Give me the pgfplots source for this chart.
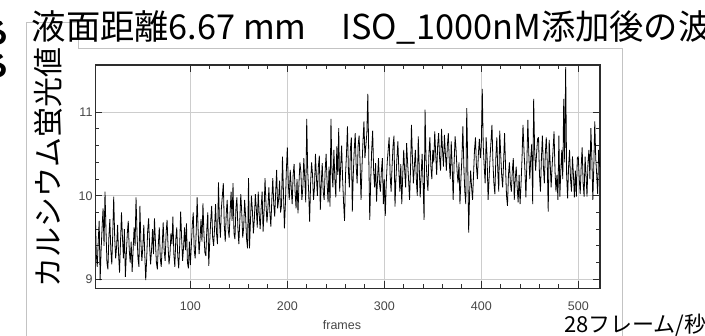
\documentclass[border=0pt]{standalone}
\usepackage{fontspec}
\setmainfont{Liberation Sans}
\newfontfamily\jp{Noto Sans CJK JP}
\usepackage{pgfplots}
\pgfplotsset{compat=1.18}
\definecolor{axc}{RGB}{45,45,45}
\definecolor{labc}{RGB}{70,70,70}
\definecolor{gridc}{RGB}{205,205,205}
\definecolor{framec}{RGB}{195,195,195}
\begin{document}
\begin{tikzpicture}[x=1pt,y=1pt]
\useasboundingbox (0,0) rectangle (705,336);
\clip (0,0) rectangle (705,336);
\draw[framec, line width=0.8pt] (26.7,0) -- (26.7,313.3) -- (78,313.3) -- (78,288) -- (622,288) -- (622,0);
\begin{axis}[
  at={(95.3pt,47.7pt)}, anchor=south west,
  width=504.7pt, height=223.3pt, scale only axis,
  xmin=2, xmax=522.4, ymin=8.892, ymax=11.566,
  xtick={100,200,300,400,500}, ytick={9,10,11},
  minor x tick num=4, minor y tick num=4,
  tick align=inside, major tick length=7pt, minor tick length=4pt,
  grid=major, major grid style={draw=gridc, line width=1.2pt},
  axis line style={draw=axc, line width=1.5pt},
  every tick/.style={draw=axc, line width=1pt},
  /pgf/number format/assume math mode=true,
  tick label style={font=\fontsize{12.5}{12.5}\selectfont, text=labc},
  xticklabel style={yshift=-10pt},
  yticklabel style={xshift=0.7pt},
  clip=true,
]
\addplot[black, line width=0.8pt, line join=miter, miter limit=2] table[x expr=\coordindex+1, y=v, row sep=\\]{
v\\
9.55\\ 9.80\\ 9.30\\ 9.15\\ 9.45\\ 9.70\\ 8.99\\ 9.35\\ 9.62\\ 9.85\\
9.40\\ 10.05\\ 9.60\\ 9.20\\ 9.12\\ 9.50\\ 9.72\\ 9.35\\ 9.18\\ 9.55\\
9.99\\ 9.50\\ 9.25\\ 9.40\\ 9.65\\ 9.30\\ 9.08\\ 9.45\\ 9.80\\ 9.50\\
9.25\\ 9.60\\ 9.03\\ 9.30\\ 9.55\\ 9.70\\ 9.35\\ 9.20\\ 9.45\\ 9.09\\
9.35\\ 9.62\\ 9.40\\ 9.98\\ 9.55\\ 9.25\\ 9.15\\ 9.88\\ 9.45\\ 9.22\\
9.38\\ 9.65\\ 9.30\\ 8.99\\ 9.25\\ 9.58\\ 9.73\\ 9.40\\ 9.18\\ 9.35\\
9.60\\ 9.30\\ 9.73\\ 9.45\\ 9.20\\ 9.12\\ 9.42\\ 9.62\\ 9.25\\ 9.15\\
9.40\\ 9.68\\ 9.35\\ 9.22\\ 9.55\\ 9.71\\ 9.40\\ 9.18\\ 9.30\\ 9.55\\
9.42\\ 9.75\\ 9.30\\ 9.15\\ 9.48\\ 9.62\\ 9.28\\ 9.13\\ 9.40\\ 9.81\\
9.50\\ 9.22\\ 9.38\\ 9.62\\ 9.35\\ 9.67\\ 9.20\\ 9.13\\ 9.45\\ 9.17\\
9.40\\ 9.65\\ 9.80\\ 9.35\\ 9.25\\ 9.55\\ 9.98\\ 9.60\\ 9.30\\ 9.48\\
9.72\\ 9.45\\ 9.91\\ 9.55\\ 9.32\\ 9.28\\ 9.60\\ 9.80\\ 9.16\\ 9.45\\
9.70\\ 9.88\\ 9.50\\ 9.40\\ 9.62\\ 9.90\\ 9.55\\ 9.42\\ 10.16\\ 9.70\\
9.50\\ 9.85\\ 10.00\\ 10.15\\ 9.65\\ 9.45\\ 9.78\\ 9.95\\ 9.60\\ 9.50\\
9.80\\ 10.05\\ 9.70\\ 10.15\\ 9.55\\ 9.48\\ 9.85\\ 9.98\\ 9.62\\ 9.42\\
9.70\\ 10.02\\ 9.80\\ 9.50\\ 9.62\\ 9.95\\ 9.75\\ 9.48\\ 9.37\\ 10.21\\
9.37\\ 9.70\\ 10.00\\ 9.82\\ 9.55\\ 9.72\\ 10.02\\ 9.85\\ 9.62\\ 10.05\\
9.78\\ 9.60\\ 9.85\\ 10.05\\ 9.57\\ 9.80\\ 10.21\\ 9.90\\ 9.68\\ 9.85\\
10.10\\ 9.80\\ 9.63\\ 9.95\\ 10.21\\ 9.90\\ 9.75\\ 10.05\\ 10.31\\ 9.85\\
9.95\\ 10.18\\ 9.80\\ 9.88\\ 10.47\\ 10.05\\ 9.61\\ 9.90\\ 10.30\\ 10.58\\
10.15\\ 9.95\\ 10.31\\ 10.10\\ 9.90\\ 10.25\\ 10.38\\ 10.05\\ 9.85\\ 10.20\\
9.79\\ 10.15\\ 10.40\\ 10.28\\ 9.95\\ 10.10\\ 10.45\\ 10.20\\ 9.92\\ 10.92\\
10.30\\ 10.05\\ 9.69\\ 10.15\\ 10.40\\ 10.25\\ 9.95\\ 10.10\\ 10.50\\ 10.22\\
10.00\\ 10.35\\ 10.48\\ 9.83\\ 10.15\\ 10.39\\ 10.05\\ 9.95\\ 10.30\\ 10.50\\
10.15\\ 9.92\\ 10.35\\ 9.87\\ 10.92\\ 10.30\\ 10.10\\ 10.55\\ 10.20\\ 9.98\\
10.59\\ 10.25\\ 10.81\\ 10.05\\ 10.35\\ 10.60\\ 10.20\\ 9.92\\ 9.70\\ 10.25\\
10.50\\ 10.83\\ 10.30\\ 10.10\\ 10.55\\ 10.70\\ 9.81\\ 10.25\\ 10.55\\ 10.75\\
10.35\\ 10.15\\ 10.60\\ 10.72\\ 10.40\\ 9.95\\ 10.35\\ 10.65\\ 10.89\\ 10.45\\
10.60\\ 10.75\\ 11.22\\ 10.45\\ 9.71\\ 10.20\\ 10.55\\ 10.78\\ 10.30\\ 10.10\\
10.39\\ 9.93\\ 10.20\\ 10.45\\ 10.15\\ 10.05\\ 10.30\\ 10.45\\ 9.90\\ 10.20\\
9.76\\ 10.15\\ 10.40\\ 10.55\\ 10.70\\ 10.25\\ 10.05\\ 10.35\\ 10.60\\ 10.72\\
9.87\\ 10.20\\ 10.45\\ 10.65\\ 10.30\\ 10.05\\ 10.38\\ 9.90\\ 10.25\\ 10.55\\
10.30\\ 10.10\\ 10.63\\ 10.40\\ 10.20\\ 9.95\\ 10.30\\ 10.85\\ 10.45\\ 10.15\\
10.35\\ 10.55\\ 10.20\\ 10.00\\ 10.71\\ 10.35\\ 9.98\\ 10.25\\ 10.50\\ 10.15\\
9.71\\ 11.03\\ 10.45\\ 10.20\\ 10.06\\ 10.50\\ 10.70\\ 10.35\\ 10.20\\ 10.55\\
10.40\\ 10.77\\ 10.50\\ 10.25\\ 10.60\\ 10.75\\ 10.45\\ 10.30\\ 10.80\\ 10.55\\
10.35\\ 10.73\\ 10.50\\ 10.30\\ 10.60\\ 10.75\\ 10.40\\ 10.20\\ 10.65\\ 10.35\\
9.95\\ 10.40\\ 10.71\\ 10.55\\ 10.30\\ 10.15\\ 10.40\\ 9.90\\ 10.20\\ 10.45\\
10.83\\ 10.35\\ 10.05\\ 9.90\\ 11.05\\ 10.40\\ 9.56\\ 10.05\\ 10.30\\ 10.10\\
9.95\\ 10.25\\ 10.55\\ 10.70\\ 10.35\\ 10.20\\ 10.50\\ 10.68\\ 10.45\\ 10.60\\
11.28\\ 10.60\\ 10.35\\ 10.15\\ 10.70\\ 10.45\\ 9.95\\ 10.20\\ 10.45\\ 10.65\\
10.85\\ 10.40\\ 10.15\\ 10.02\\ 10.45\\ 10.70\\ 10.30\\ 10.05\\ 10.78\\ 10.50\\
10.25\\ 10.10\\ 10.40\\ 10.75\\ 10.35\\ 10.00\\ 9.88\\ 10.25\\ 10.40\\ 10.15\\
10.05\\ 10.30\\ 10.45\\ 9.95\\ 10.20\\ 10.35\\ 10.10\\ 9.92\\ 10.25\\ 9.90\\
10.15\\ 10.45\\ 10.85\\ 10.55\\ 10.30\\ 9.98\\ 10.40\\ 10.91\\ 10.50\\ 10.20\\
10.45\\ 10.62\\ 9.90\\ 11.16\\ 10.55\\ 10.30\\ 10.50\\ 10.68\\ 10.70\\ 10.25\\
10.05\\ 10.45\\ 10.72\\ 10.35\\ 10.15\\ 10.50\\ 10.70\\ 10.40\\ 9.81\\ 10.67\\
10.40\\ 10.10\\ 10.35\\ 10.55\\ 10.77\\ 10.30\\ 10.05\\ 10.25\\ 9.95\\ 10.72\\
9.99\\ 10.30\\ 10.55\\ 10.20\\ 11.16\\ 10.40\\ 11.54\\ 10.25\\ 9.97\\ 10.35\\
10.55\\ 10.20\\ 10.05\\ 10.47\\ 10.25\\ 9.98\\ 10.30\\ 9.99\\ 10.45\\ 10.47\\
10.20\\ 10.02\\ 10.35\\ 10.58\\ 10.15\\ 9.99\\ 10.47\\ 10.25\\ 9.99\\ 10.40\\
10.55\\ 10.20\\ 10.81\\ 10.45\\ 9.95\\ 10.35\\ 10.89\\ 10.45\\ 10.25\\ 10.02\\
10.55\\ 10.35\\
};
\end{axis}
\node[anchor=center, inner sep=0, text=labc, font=\fontsize{12.5}{12.5}\selectfont] at (342,11) {frames};
\node[anchor=base west, inner sep=0, font=\jp\fontsize{34.3}{34.3}\selectfont] at (31.5,296) {液面距離6.67 mm　ISO\_1000nM添加後の波形};
\node[anchor=center, inner sep=0, rotate=90, font=\jp\fontsize{30}{30}\selectfont] at (48.5,168) {カルシウム蛍光値};
\node[anchor=base west, inner sep=0, font=\jp\fontsize{22}{22}\selectfont] at (564,3) {28フレーム/秒};
\node[anchor=base east, inner sep=0, font=\jp\bfseries\fontsize{28}{28}\selectfont] at (10,292) {る};
\node[anchor=base east, inner sep=0, font=\jp\bfseries\fontsize{28}{28}\selectfont] at (10,259) {ろ};
\end{tikzpicture}
\end{document}
